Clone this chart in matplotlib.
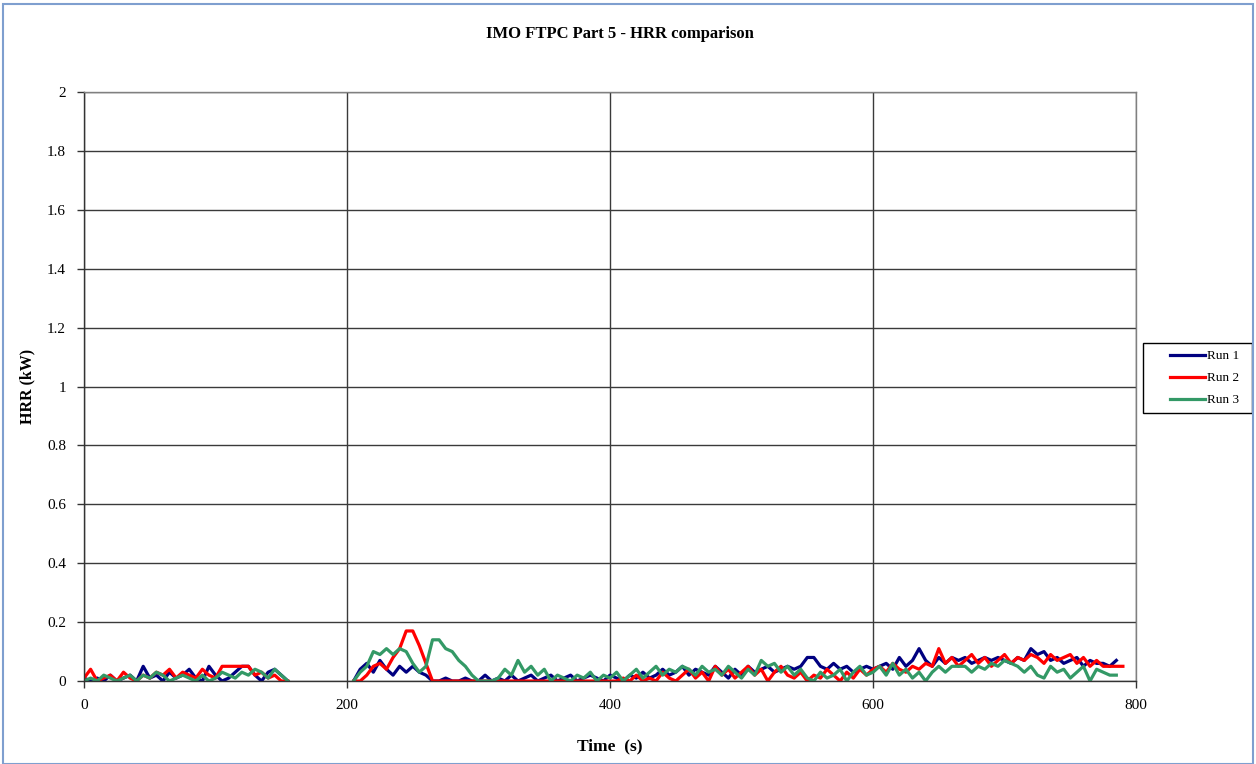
import numpy as np
import matplotlib
matplotlib.use("Agg")
import matplotlib.pyplot as plt
from matplotlib.patches import Rectangle
from matplotlib.ticker import FuncFormatter

nan = np.nan

# time axis, 5 s steps
time_s = np.arange(0, 795, 5)

run1 = [
    # 0-150
    0.01, 0.0, 0.01, 0.0, 0.02, 0.0, 0.01, 0.02, 0.0, 0.05, 0.01, 0.02, 0.0, 0.03, 0.01, 0.02,
    0.04, 0.01, 0.0, 0.05, 0.02, 0.0, 0.01, 0.03, 0.05, 0.05, 0.02, 0.0, 0.03, 0.04, 0.02,
    # 155-200
    0.0, nan, nan, nan, nan, nan, nan, nan, nan, nan,
    # 205-265
    0.0, 0.04, 0.06, 0.03, 0.07, 0.04, 0.02, 0.05, 0.03, 0.05, 0.03, 0.02, 0.0,
    # 270-395
    0.0, 0.01, 0.0, 0.0, 0.01, 0.0, 0.0, 0.02, 0.0, 0.01, 0.0, 0.02, 0.0, 0.01, 0.02, 0.0,
    0.01, 0.02, 0.0, 0.01, 0.02, 0.0, 0.01, 0.02, 0.01, 0.0,
    # 400-535
    0.02, 0.01, 0.0, 0.02, 0.01, 0.03, 0.01, 0.02, 0.04, 0.02, 0.03, 0.05, 0.02, 0.04, 0.03, 0.02,
    0.05, 0.03, 0.01, 0.04, 0.02, 0.05, 0.03, 0.04, 0.05, 0.03, 0.04, 0.05,
    # 540-595
    0.04, 0.05, 0.08, 0.08, 0.05, 0.04, 0.06, 0.04, 0.05, 0.03, 0.04, 0.05,
    # 600-785
    0.04, 0.05, 0.06, 0.04, 0.08, 0.05, 0.07, 0.11, 0.07, 0.05, 0.08, 0.06, 0.08, 0.07, 0.08, 0.06,
    0.07, 0.08, 0.07, 0.08, 0.07, 0.06, 0.08, 0.07, 0.11, 0.09, 0.10, 0.07, 0.08, 0.06, 0.07, 0.08,
    0.05, 0.07, 0.06, 0.06, 0.05, 0.07,
    # 790
    nan,
]

run2 = [
    0.01, 0.04, 0.0, 0.01, 0.02, 0.0, 0.03, 0.01, 0.0, 0.02, 0.01, 0.03, 0.02, 0.04, 0.01, 0.03,
    0.02, 0.01, 0.04, 0.02, 0.01, 0.05, 0.05, 0.05, 0.05, 0.05, 0.02, 0.03, 0.01, 0.02, 0.0,
    0.0, nan, nan, nan, nan, nan, nan, nan, nan, nan,
    0.0, 0.0, 0.02, 0.05, 0.06, 0.04, 0.08, 0.11, 0.17, 0.17, 0.12, 0.06, 0.0,
    0.0, 0.0, 0.0, 0.0, 0.0, 0.0, 0.0, 0.0, 0.0, 0.0, 0.0, 0.0, 0.0, 0.0, 0.0, 0.0,
    0.0, 0.0, 0.0, 0.0, 0.0, 0.0, 0.0, 0.0, 0.0, 0.0,
    0.0, 0.0, 0.01, 0.0, 0.02, 0.0, 0.01, 0.0, 0.03, 0.01, 0.0, 0.02, 0.04, 0.01, 0.03, 0.0,
    0.05, 0.02, 0.04, 0.01, 0.03, 0.05, 0.02, 0.04, 0.0, 0.03, 0.05, 0.02,
    0.01, 0.03, 0.0, 0.02, 0.01, 0.04, 0.02, 0.0, 0.03, 0.01, 0.04, 0.02,
    0.04, 0.05, 0.03, 0.06, 0.04, 0.03, 0.05, 0.04, 0.06, 0.05, 0.11, 0.06, 0.08, 0.05, 0.07, 0.09,
    0.06, 0.08, 0.05, 0.07, 0.09, 0.06, 0.08, 0.07, 0.09, 0.08, 0.06, 0.09, 0.07, 0.08, 0.09, 0.06,
    0.08, 0.05, 0.07, 0.05, 0.05, 0.05,
    0.05,
]

run3 = [
    0.0, 0.01, 0.0, 0.02, 0.01, 0.0, 0.01, 0.02, 0.0, 0.02, 0.01, 0.03, 0.02, 0.0, 0.01, 0.02,
    0.01, 0.0, 0.02, 0.0, 0.01, 0.03, 0.02, 0.01, 0.03, 0.02, 0.04, 0.03, 0.01, 0.04, 0.02,
    0.0, nan, nan, nan, nan, nan, nan, nan, nan, nan,
    0.0, 0.03, 0.05, 0.10, 0.09, 0.11, 0.09, 0.11, 0.10, 0.06, 0.03, 0.05, 0.14,
    0.14, 0.11, 0.10, 0.07, 0.05, 0.02, 0.0, 0.0, 0.0, 0.01, 0.04, 0.02, 0.07, 0.03, 0.05, 0.02,
    0.04, 0.0, 0.02, 0.01, 0.0, 0.02, 0.01, 0.03, 0.0, 0.02,
    0.01, 0.03, 0.0, 0.02, 0.04, 0.01, 0.03, 0.05, 0.02, 0.04, 0.03, 0.05, 0.04, 0.02, 0.05, 0.03,
    0.04, 0.02, 0.05, 0.03, 0.01, 0.04, 0.02, 0.07, 0.05, 0.06, 0.03, 0.05,
    0.02, 0.04, 0.01, 0.0, 0.03, 0.01, 0.02, 0.04, 0.0, 0.03, 0.05, 0.02,
    0.03, 0.05, 0.02, 0.06, 0.02, 0.04, 0.01, 0.03, 0.0, 0.03, 0.05, 0.03, 0.05, 0.05, 0.05, 0.03,
    0.05, 0.04, 0.06, 0.05, 0.07, 0.06, 0.05, 0.03, 0.05, 0.02, 0.01, 0.05, 0.03, 0.04, 0.01, 0.03,
    0.05, 0.0, 0.04, 0.03, 0.02, 0.02,
    nan,
]

series_names = ["Run 1", "Run 2", "Run 3"]
series_colors = ["#000080", "#FF0000", "#339966"]

plt.rcParams['font.family'] = ['Liberation Serif', 'DejaVu Serif']

fig = plt.figure(figsize=(12.56, 7.64), dpi=100)
ax = fig.add_axes([0.0669, 0.1086, 0.8376, 0.771])

for vals, name, col in zip([run1, run2, run3], series_names, series_colors):
    ax.plot(time_s, vals, color=col, lw=2.3, label=name)

ax.set_xlim(0, 800)
ax.set_ylim(0, 2)
ax.set_xticks([0, 200, 400, 600, 800])
ax.set_yticks(np.arange(0, 2.01, 0.2))
ax.yaxis.set_major_formatter(FuncFormatter(lambda v, p: f"{v:g}"))
ax.grid(True, color="#3a3a3a", lw=1.0)
ax.set_axisbelow(True)
for sp in ax.spines.values():
    sp.set_color("#808080")
    sp.set_linewidth(1.0)
ax.spines['left'].set_color("#333333")
ax.spines['bottom'].set_color("#333333")
ax.tick_params(direction="out", length=5, width=1.0, color="#333333", labelsize=11)
ax.tick_params(axis="y", pad=8)
ax.tick_params(axis="x", pad=8)

ax.set_xlabel("Time  (s)", fontsize=12.5, fontweight="bold", labelpad=19)
ax.set_ylabel("HRR (kW)", fontsize=11.5, fontweight="bold", labelpad=8)
fig.text(0.4936, 0.955, "IMO FTPC Part 5 - HRR comparison", ha="center", va="center",
         fontsize=12, fontweight="bold")

leg = fig.legend(loc="center left", bbox_to_anchor=(0.926, 0.505), fontsize=9.5,
                 frameon=False, handlelength=2.7, handletextpad=0.1,
                 borderpad=0.0, labelspacing=0.75)

# legend box
fig.patches.append(Rectangle((1143 / 1256, 1 - 413 / 764), 109 / 1256, 70 / 764,
                             transform=fig.transFigure, fill=False,
                             edgecolor="black", lw=1.0))

# outer chart border
fig.patches.append(Rectangle((0.002, 0.0), 0.996, 0.995, transform=fig.transFigure,
                             fill=False, edgecolor="#7F9FCF", lw=1.5))

fig.savefig("out.png", dpi=100)
